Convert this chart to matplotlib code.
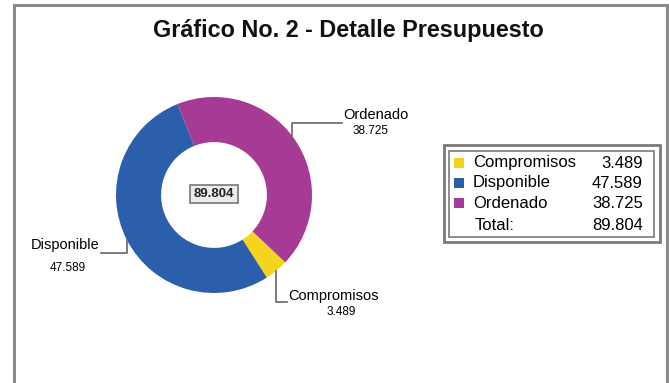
import matplotlib.pyplot as plt
from matplotlib.patches import Rectangle
import numpy as np

plt.rcParams['font.family'] = ['Liberation Sans', 'DejaVu Sans']

# data
categorias = ['Compromisos', 'Disponible', 'Ordenado']
valores = [3.489, 47.589, 38.725]
total = 89.804
colores = ['#F5D51C', '#2C5FAB', '#A63A95']
titulo = 'Gráfico No. 2 - Detalle Presupuesto'

W, H = 669, 383

def Y(y):
    # pixel row (from top) -> data y
    return H - y

def fmt(v):
    return f'{v:.3f}'

fig = plt.figure(figsize=(W / 100, H / 100), dpi=100)
ax = fig.add_axes([0, 0, 1, 1])

# donut
cx, cy, r = 214, Y(195), 98
wedges, _ = ax.pie(valores, colors=colores, startangle=-43.4, counterclock=False,
                   radius=r, center=(cx, cy),
                   wedgeprops=dict(width=r * 0.46, edgecolor='none'))
ax.set_xlim(0, W)
ax.set_ylim(0, H)
ax.set_aspect('auto')
ax.axis('off')

# outer frame of the chart
ax.plot([14, 14, 667, 667], [-5, Y(5), Y(5), -5], color='#8a8a8a', lw=2.2,
        solid_joinstyle='miter')

ax.text(348, Y(31), titulo, ha='center', va='center', fontsize=16.8,
        fontweight='bold', color='#111111')

# leader lines and labels
def anchor(w):
    a = np.deg2rad((w.theta1 + w.theta2) / 2)
    return cx + r * np.cos(a), cy + r * np.sin(a)

lc = '#666666'
# Compromisos
ax0, ay0 = anchor(wedges[0])
ax.plot([ax0, ax0, ax0 + 11], [ay0, Y(302), Y(302)], color=lc, lw=1.2)
ax.text(ax0 + 12, Y(296), categorias[0], ha='left', va='center', fontsize=10.5)
ax.text(341, Y(312), fmt(valores[0]), ha='center', va='center', fontsize=8.5)
# Disponible
ax1, ay1 = anchor(wedges[1])
ax.plot([ax1, ax1, 101], [ay1, Y(253), Y(253)], color=lc, lw=1.2)
ax.text(100, Y(245), categorias[1], ha='right', va='center', fontsize=10.5)
ax.text(68, Y(268), fmt(valores[1]), ha='center', va='center', fontsize=8.5)
# Ordenado
ax2, ay2 = anchor(wedges[2])
ax.plot([ax2 - 3, ax2 - 3, 342], [ay2 - 4, Y(123), Y(123)], color=lc, lw=1.2)
ax.text(343, Y(115), categorias[2], ha='left', va='center', fontsize=10.5)
ax.text(371, Y(131), fmt(valores[2]), ha='center', va='center', fontsize=8.5)

# center total
ax.text(cx, Y(194), fmt(total), ha='center', va='center', fontsize=9.5,
        fontweight='bold', color='#222222',
        bbox=dict(boxstyle='square,pad=0.25', facecolor='#ebebeb',
                  edgecolor='#777777', lw=1.2))

# legend table
ax.add_patch(Rectangle((444, Y(242)), 216, 97, fill=False, ec='#7a7a7a', lw=2))
ax.add_patch(Rectangle((449, Y(237)), 205, 86, fill=False, ec='#7a7a7a', lw=1.2))
rows = [163, 183, 203]
for yy, cat, val, col in zip(rows, categorias, valores, colores):
    ax.add_patch(Rectangle((454, Y(yy) - 5), 10, 10, color=col, lw=0))
    ax.text(473, Y(yy), cat, ha='left', va='center', fontsize=12)
    ax.text(643, Y(yy), fmt(val), ha='right', va='center', fontsize=12)
ax.text(475, Y(225), 'Total:', ha='left', va='center', fontsize=12)
ax.text(643, Y(225), fmt(total), ha='right', va='center', fontsize=12)

fig.savefig('out.png', dpi=100)
